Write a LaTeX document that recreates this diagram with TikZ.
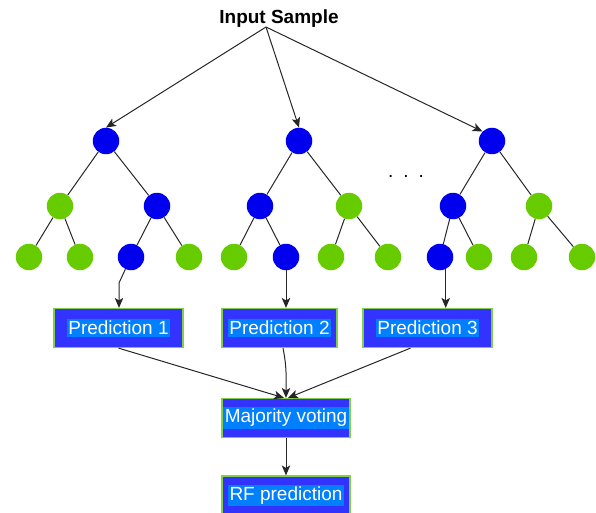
\documentclass[tikz,border=0pt]{standalone}
\usepackage{fontspec}
\setmainfont{Liberation Sans}
\usetikzlibrary{arrows.meta}
\definecolor{nodeblue}{RGB}{0,0,238}
\definecolor{nodegreen}{RGB}{102,204,0}
\definecolor{boxblue}{RGB}{51,51,255}
\definecolor{boxhl}{RGB}{0,127,255}
\definecolor{boxedge}{RGB}{130,208,70}
\setlength{\fboxsep}{1.8pt}
\tikzset{
  bn/.style={circle, fill=nodeblue, minimum size=26.5pt, inner sep=0pt},
  gn/.style={circle, fill=nodegreen, minimum size=26.5pt, inner sep=0pt},
  edge/.style={draw=black!85, line width=1pt},
  arr/.style={edge, -{Stealth[length=10pt,width=8.5pt,inset=2.5pt]}},
  pbox/.style={rectangle, fill=boxblue, draw=boxedge, line width=1.2pt,
    minimum height=39pt, text=white, font=\fontsize{19}{21}\selectfont, inner sep=0pt},
}
\newcommand{\hl}[1]{\colorbox{boxhl}{#1}}
\begin{document}
\begin{tikzpicture}[x=1pt,y=-1pt]
\useasboundingbox (0,0) rectangle (596,513);
\clip (0,0) rectangle (596,513);

\node[font=\bfseries\fontsize{19}{21}\selectfont] (inp) at (279,19) {Input Sample};
\coordinate (src) at (266,27);

% tree 1
\node[bn] (a0) at (106,141) {};
\node[gn] (a1) at (60,206) {};
\node[bn] (a2) at (157,206) {};
\node[gn] (a3) at (29,257) {};
\node[gn] (a4) at (80,257) {};
\node[bn] (a5) at (131,257) {};
\node[gn] (a6) at (189,257) {};
% tree 2
\node[bn] (b0) at (299,141) {};
\node[bn] (b1) at (260,206) {};
\node[gn] (b2) at (349,206) {};
\node[gn] (b3) at (234,257) {};
\node[bn] (b4) at (286,257) {};
\node[gn] (b5) at (331,257) {};
\node[gn] (b6) at (388,257) {};
% tree 3
\node[bn] (c0) at (492,141) {};
\node[bn] (c1) at (453,206) {};
\node[gn] (c2) at (539,206) {};
\node[bn] (c3) at (440,257) {};
\node[gn] (c4) at (479,257) {};
\node[gn] (c5) at (524,257) {};
\node[gn] (c6) at (582,257) {};

\foreach \t in {a,b,c}{
  \draw[edge] (\t0) -- (\t1);
  \draw[edge] (\t0) -- (\t2);
  \draw[edge] (\t1) -- (\t3);
  \draw[edge] (\t1) -- (\t4);
  \draw[edge] (\t2) -- (\t5);
  \draw[edge] (\t2) -- (\t6);
}

\node[font=\fontsize{19}{21}\selectfont] (dots) at (406,176) {.\hspace{10pt}.\hspace{10pt}.};

% boxes
\node[pbox, minimum width=129pt] (p1) at (118.5,328) {\hl{Prediction 1}};
\node[pbox, minimum width=115pt] (p2) at (279.5,328) {\hl{Prediction 2}};
\node[pbox, minimum width=129pt] (p3) at (427.5,328) {\hl{Prediction 3}};
\node[pbox, minimum width=128pt] (m) at (286,418) {\hl{Majority voting}};
\node[pbox, minimum width=128pt] (rf) at (286,495.5) {\hl{RF prediction}};

% input arrows
\draw[arr] (src) -- (a0.north);
\draw[arr] (src) -- (b0.north);
\draw[arr] (src) -- (c0.135);

% leaf to prediction
\coordinate (k1) at (119,283);
\draw[arr] (a5) -- (k1) -- (k1 |- p1.north);
\draw[arr] (b4) -- (b4 |- p2.north);
\draw[arr] (c3.-65) -- (c3.-65 |- p3.north);

% predictions to voting
\draw[arr] (p1.south) -- ([xshift=-2pt]m.north);
\draw[arr] ([xshift=3.5pt]p2.south) .. controls +(4,20) and +(0,-20) .. (m.north);
\draw[arr] ([xshift=-17pt]p3.south) -- ([xshift=2pt]m.north);
\draw[arr] (m.south) -- (rf.north);
\end{tikzpicture}
\end{document}
